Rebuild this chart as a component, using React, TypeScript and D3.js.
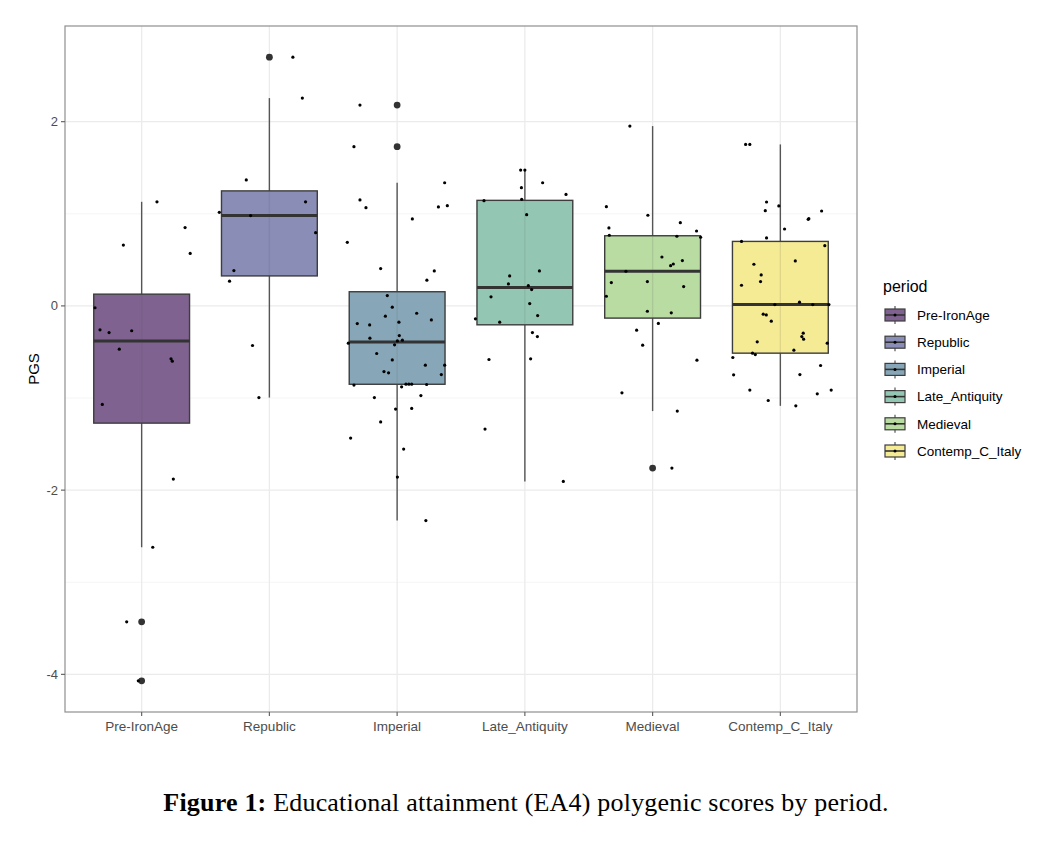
import React from "react";
import * as d3 from "d3";

// ---------- DATA ----------
const categories = ["Pre-IronAge", "Republic", "Imperial", "Late_Antiquity", "Medieval", "Contemp_C_Italy"];

const preIronAgePGS = [1.13, 0.66, 0.85, 0.57, -0.02, -0.26, -0.29, -0.27, -0.47, -0.575, -0.6, -1.07, -1.88, -2.62, -3.43, -4.07];
const preIronAgeJitter = [0.12, -0.143, 0.34, 0.38, -0.365, -0.326, -0.255, -0.078, -0.175, 0.23, 0.24, -0.308, 0.248, 0.087, -0.117, -0.026];

const republicPGS = [2.7, 2.256, 1.367, 1.13, 1.016, 0.98, 0.795, 0.383, 0.268, -0.43, -0.995];
const republicJitter = [0.184, 0.258, -0.181, 0.283, -0.392, -0.147, 0.362, -0.278, -0.312, -0.132, -0.082];

const imperialPGS = [2.18, 1.728, 1.337, 1.15, 1.066, 1.074, 1.088, 0.944, 0.69, 0.405, 0.38, 0.279, 0.112, -0.014, -0.112, -0.08,
  -0.192, -0.206, -0.152, -0.177, -0.322, -0.35, -0.372, -0.38, -0.423, -0.405, -0.517, -0.586, -0.643, -0.643, -0.713, -0.727,
  -0.745, -0.86, -0.878, -0.85, -0.85, -0.85, -0.853, -0.995, -0.973, -1.12, -1.113, -1.26, -1.435, -1.554, -1.858, -2.33];
const imperialJitter = [-0.291, -0.338, 0.372, -0.291, -0.244, 0.323, 0.393, 0.119, -0.39, -0.129, 0.291, 0.233, -0.077, -0.038, -0.092, 0.153,
  -0.312, -0.215, 0.268, 0.014, 0.017, -0.213, 0.041, 0.002, -0.02, -0.382, -0.16, -0.038, 0.221, 0.372, -0.103, -0.067,
  0.346, -0.338, 0.035, 0.069, 0.092, 0.114, 0.231, -0.178, 0.186, -0.012, 0.114, -0.129, -0.364, 0.051, 0.002, 0.225];

const lateAntiquityPGS = [1.475, 1.475, 1.337, 1.283, 1.21, 1.142, 1.157, 0.99, 0.325, 0.38, 0.239, 0.22, 0.177, 0.098, 0.025, -0.14,
  -0.105, -0.177, -0.29, -0.333, -0.582, -0.575, -1.337, -1.905];
const lateAntiquityJitter = [-0.033, 0.0, 0.139, -0.027, 0.322, -0.32, -0.025, 0.014, -0.119, 0.114, -0.129, 0.027, 0.053, -0.265, 0.038, -0.387,
  0.1, -0.197, 0.059, 0.098, -0.281, 0.045, -0.312, 0.301];

const medievalPGS = [1.952, 1.077, 0.984, 0.846, 0.903, 0.813, 0.767, 0.756, 0.745, 0.531, 0.492, 0.437, 0.455, 0.376, 0.253, 0.264,
  0.21, 0.105, -0.058, -0.075, -0.19, -0.264, -0.426, -0.589, -0.944, -1.142, -1.76];
const medievalJitter = [-0.178, -0.362, -0.037, -0.342, 0.217, 0.344, -0.339, 0.19, 0.376, 0.073, 0.233, 0.141, 0.162, -0.209, -0.323, -0.041,
  0.243, -0.362, -0.041, 0.146, 0.045, -0.125, -0.078, 0.347, -0.24, 0.193, 0.151];

const contempPGS = [1.753, 1.753, 1.128, 1.034, 1.085, 1.03, 0.94, 0.947, 0.835, 0.738, 0.7, 0.654, 0.452, 0.488, 0.336, 0.264,
  0.224, 0.04, 0.014, 0.014, 0.014, -0.09, -0.098, -0.166, -0.296, -0.333, -0.361, -0.39, -0.405, -0.481, -0.513, -0.528,
  -0.56, -0.647, -0.748, -0.745, -0.914, -0.954, -0.914, -1.027, -1.085];
const contempJitter = [-0.272, -0.239, -0.108, -0.118, -0.012, 0.323, 0.218, 0.223, 0.033, -0.108, -0.304, 0.348, -0.207, 0.117, -0.15, -0.155,
  -0.304, 0.15, -0.043, 0.254, 0.38, -0.134, -0.11, -0.071, 0.179, 0.168, 0.182, -0.181, 0.367, 0.106, -0.218, -0.196,
  -0.372, 0.315, -0.366, 0.153, -0.239, 0.289, 0.398, -0.095, 0.121];

const yTicks = [-4, -2, 0, 2];
const yMinorTicks = [-3, -1, 1];

const seriesValues = [preIronAgePGS, republicPGS, imperialPGS, lateAntiquityPGS, medievalPGS, contempPGS];
const seriesJitter = [preIronAgeJitter, republicJitter, imperialJitter, lateAntiquityJitter, medievalJitter, contempJitter];

// ---------- STYLE ----------
const fills = ["#7f6290", "#8a8db5", "#87a7b8", "#93c7b4", "#b9dca2", "#f6eb95"];
const W = 1064, H = 854;
const panel = { left: 65, right: 857, top: 26, bottom: 712 };
const sans = "'Liberation Sans', Arial, Helvetica, sans-serif";

function boxStats(values: number[]) {
  const s = [...values].sort(d3.ascending);
  const q1 = d3.quantile(s, 0.25)!;
  const med = d3.quantile(s, 0.5)!;
  const q3 = d3.quantile(s, 0.75)!;
  const iqr = q3 - q1;
  const lo = q1 - 1.5 * iqr, hi = q3 + 1.5 * iqr;
  const inside = s.filter((v) => v >= lo && v <= hi);
  return { q1, med, q3, wLo: d3.min(inside)!, wHi: d3.max(inside)!, outliers: s.filter((v) => v < lo || v > hi) };
}

export default function App() {
  const all = seriesValues.flat();
  const [mn, mx] = d3.extent(all) as [number, number];
  const pad = 0.05 * (mx - mn);
  const y = d3.scaleLinear().domain([mn - pad, mx + pad]).range([panel.bottom, panel.top]);
  const x = d3.scalePoint<string>().domain(categories).range([panel.left, panel.right]).padding(0.6);
  const step = x.step();
  const bw = 0.75 * step;

  const stats = seriesValues.map(boxStats);

  const legendX = 885, legendY0 = 315, legendStep = 27.2;

  return (
    <svg width={W} height={H} style={{ position: "absolute", left: 0, top: 0, background: "#fff" }}>
      <rect x={0} y={0} width={W} height={H} fill="#fff" />
      {/* grid */}
      {yMinorTicks.map((t) => (
        <line key={"mi" + t} x1={panel.left} x2={panel.right} y1={y(t)} y2={y(t)} stroke="#f0f0f0" strokeWidth={0.7} />
      ))}
      {yTicks.map((t) => (
        <line key={"ma" + t} x1={panel.left} x2={panel.right} y1={y(t)} y2={y(t)} stroke="#ebebeb" strokeWidth={1.3} />
      ))}
      {categories.map((c) => (
        <line key={"gx" + c} x1={x(c)!} x2={x(c)!} y1={panel.top} y2={panel.bottom} stroke="#ebebeb" strokeWidth={1.3} />
      ))}

      {/* boxplots */}
      {categories.map((c, i) => {
        const s = stats[i];
        const cx = x(c)!;
        return (
          <g key={"box" + c}>
            <line x1={cx} x2={cx} y1={y(s.wHi)} y2={y(s.q3)} stroke="#555" strokeWidth={1.4} />
            <line x1={cx} x2={cx} y1={y(s.q1)} y2={y(s.wLo)} stroke="#555" strokeWidth={1.4} />
            <rect x={cx - bw / 2} y={y(s.q3)} width={bw} height={y(s.q1) - y(s.q3)} fill={fills[i]} stroke="#3d3d3d" strokeWidth={1.4} />
            <line x1={cx} x2={cx} y1={y(s.q3)} y2={y(s.q1)} stroke="#555" strokeOpacity={0.15} strokeWidth={1.3} />
            <line x1={cx - bw / 2} x2={cx + bw / 2} y1={y(s.med)} y2={y(s.med)} stroke="#333" strokeWidth={3} />
            {s.outliers.map((v, k) => (
              <circle key={k} cx={cx} cy={y(v)} r={3.4} fill="#333" />
            ))}
          </g>
        );
      })}

      {/* jittered points */}
      {categories.map((c, i) =>
        seriesValues[i].map((v, k) => (
          <circle key={c + k} cx={x(c)! + seriesJitter[i][k] * step} cy={y(v)} r={1.6} fill="#000" />
        ))
      )}

      {/* panel border */}
      <rect x={panel.left} y={panel.top} width={panel.right - panel.left} height={panel.bottom - panel.top} fill="none" stroke="#8f8f8f" strokeWidth={1.2} />

      {/* y axis */}
      {yTicks.map((t) => (
        <g key={"yt" + t}>
          <line x1={panel.left - 4} x2={panel.left} y1={y(t)} y2={y(t)} stroke="#666" strokeWidth={1.2} />
          <text x={panel.left - 7} y={y(t)} dy="0.35em" textAnchor="end" fontFamily={sans} fontSize={13} fill="#4d4d4d">
            {d3.format("d")(t).replace("−", "-")}
          </text>
        </g>
      ))}
      <text transform={`translate(39,${(panel.top + panel.bottom) / 2}) rotate(-90)`} textAnchor="middle" fontFamily={sans} fontSize={15} fill="#000">
        PGS
      </text>

      {/* x axis */}
      {categories.map((c) => (
        <g key={"xt" + c}>
          <line x1={x(c)!} x2={x(c)!} y1={panel.bottom} y2={panel.bottom + 4} stroke="#666" strokeWidth={1.2} />
          <text x={x(c)!} y={panel.bottom + 18.5} textAnchor="middle" fontFamily={sans} fontSize={13.5} fill="#4d4d4d">
            {c}
          </text>
        </g>
      ))}

      {/* legend */}
      <text x={883} y={291.5} fontFamily={sans} fontSize={16} fill="#000">period</text>
      {categories.map((c, i) => {
        const cy = legendY0 + i * legendStep;
        const kx = legendX + 10;
        return (
          <g key={"lg" + c}>
            <line x1={kx} x2={kx} y1={cy - 9} y2={cy + 9} stroke="#555" strokeWidth={1.2} />
            <rect x={legendX} y={cy - 6} width={20} height={12} fill={fills[i]} stroke="#3d3d3d" strokeWidth={1.2} />
            <line x1={legendX} x2={legendX + 20} y1={cy} y2={cy} stroke="#333" strokeWidth={1.6} />
            <circle cx={kx} cy={cy} r={1.5} fill="#000" />
            <text x={917} y={cy} dy="0.36em" fontFamily={sans} fontSize={13.5} fill="#000">{c}</text>
          </g>
        );
      })}

      {/* caption */}
      <text x={526} y={811} textAnchor="middle" fontFamily="'Liberation Serif', 'DejaVu Serif', serif" fontSize={26} letterSpacing={0.2} fill="#000">
        <tspan fontWeight="bold">Figure 1:</tspan>
        <tspan> Educational attainment (EA4) polygenic scores by period.</tspan>
      </text>
    </svg>
  );
}
